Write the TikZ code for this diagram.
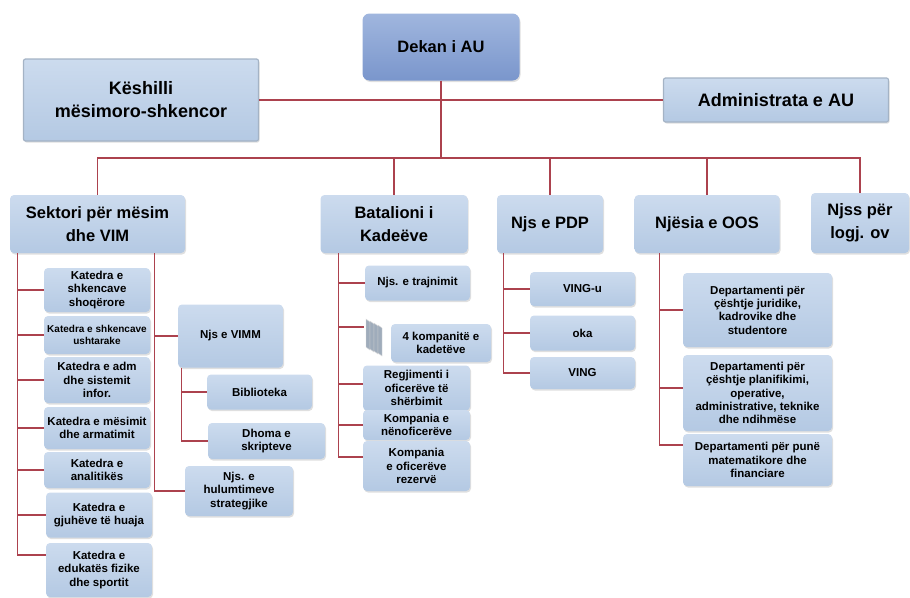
\documentclass[tikz,border=0pt]{standalone}
\usepackage{fontspec}
\setmainfont{Liberation Sans}
\usetikzlibrary{shadows}
\definecolor{boxtop}{RGB}{204,219,238}
\definecolor{boxbot}{RGB}{180,201,227}
\definecolor{headtop}{RGB}{160,182,222}
\definecolor{headbot}{RGB}{122,150,204}
\definecolor{linkred}{RGB}{172,66,78}
\tikzstyle{box} = [
  rectangle, rounded corners=4pt, align=center, top color=boxtop,
  bottom color=boxbot, inner sep=1pt,
  drop shadow={shadow xshift=1pt, shadow yshift=-1.5pt, opacity=.25},
  font=\bfseries\fontsize{11.5}{13.4}\selectfont
]
\tikzstyle{unit} = [box, font=\bfseries\fontsize{16.5}{22.5}\selectfont]
\tikzstyle{bevel} = [box, rounded corners=2pt, draw=boxbot!70!gray,
  line width=1.2pt, font=\bfseries\fontsize{18}{23}\selectfont]
\tikzstyle{head} = [unit, top color=headtop, bottom color=headbot,
  rounded corners=7pt]
\tikzstyle{link} = [draw=linkred, line width=1.1pt]
\tikzset{sz/.style 2 args={minimum width=#1pt, minimum height=#2pt}}

\begin{document}
\begin{tikzpicture}[x=1pt, y=-1pt]
  \useasboundingbox (0,0) rectangle (910,597);

  \node[head, sz={157}{67}] (dekan) at (441,47) {Dekan i AU};
  \node[bevel, sz={235}{82}] (kesh) at (141,100) {Këshilli\\mësimoro-shkencor};
  \node[bevel, sz={225}{44}] (admin) at (776,100) {Administrata e AU};
  \coordinate (bus) at (441,158);

  \node[unit, sz={175}{58}] (sektori) at (97.5,224) {Sektori për mësim\\dhe VIM};
  \node[unit, sz={147}{58}] (batal) at (394,224) {Batalioni i\\Kadeëve};
  \node[unit, sz={106}{58}] (pdp) at (550,224) {Njs e PDP};
  \node[unit, sz={145}{58}] (oos) at (707,224) {Njësia e OOS};
  \node[unit, sz={98}{60}] (njss) at (860,223) {Njss për\\logj. ov};

  % katedrat
  \node[box, sz={106}{44}] (k1) at (97,290) {Katedra e\\shkencave\\shoqërore};
  \node[box, sz={106}{38}, font=\bfseries\fontsize{10}{12}\selectfont] (k2) at (97,335)
    {Katedra e shkencave\\ushtarake};
  \node[box, sz={106}{46}] (k3) at (97,380) {Katedra e adm\\dhe sistemit\\infor.};
  \node[box, sz={106}{42}] (k4) at (97,428) {Katedra e mësimit\\dhe armatimit};
  \node[box, sz={106}{36}] (k5) at (97,470) {Katedra e\\analitikës};
  \node[box, sz={106}{45}] (k6) at (99,515) {Katedra e\\gjuhëve të huaja};
  \node[box, sz={106}{54}] (k7) at (99,570) {Katedra e\\edukatës fizike\\dhe sportit};

  \node[box, sz={105}{63}] (vimm) at (230.5,336) {Njs e VIMM};
  \node[box, sz={105}{35}] (bibl) at (259.5,392) {Biblioteka};
  \node[box, sz={117}{36}] (dhoma) at (266.5,441) {Dhoma e\\skripteve};
  \node[box, sz={108}{50}] (hulum) at (239,491) {Njs. e\\hulumtimeve\\strategjike};

  % batalioni
  \node[box, sz={105}{35}] (trajn) at (417.5,283) {Njs. e trajnimit};
  \node[box, sz={100}{38}] (komp4) at (441,343) {4 kompanitë e\\kadetëve};
  \node[minimum width=22pt, minimum height=34pt] (kicon) at (375,335) {};
  \foreach \i in {0,...,3}
    \draw[fill=boxbot!60!gray, draw=white!70!gray]
      (366+4*\i,319+2*\i) -- ++(4,3) -- ++(0,28) -- ++(-4,-3) -- cycle;
  \node[box, sz={107}{45}] (regj) at (416.5,388) {Regjimenti i\\oficerëve të\\shërbimit};
  \node[box, sz={107}{30}] (kompn) at (416.5,425) {Kompania e\\nënoficerëve};
  \node[box, sz={107}{50}] (kompr) at (416.5,466) {Kompania\\e oficerëve\\rezervë};

  % pdp
  \node[box, sz={105}{34}] (vingu) at (582.5,289) {VING-u};
  \node[box, sz={105}{35}] (oka) at (582.5,333) {oka};
  \node[box, sz={105}{32}] (ving) at (582.5,373) {VING};

  % oos
  \node[box, sz={149}{74}] (dep1) at (757.5,310)
    {Departamenti për\\çështje juridike,\\kadrovike dhe\\studentore};
  \node[box, sz={149}{76}] (dep2) at (757.5,393)
    {Departamenti për\\çështje planifikimi,\\operative,\\administrative, teknike\\dhe ndihmëse};
  \node[box, sz={149}{52}] (dep3) at (757.5,460)
    {Departamenti për punë\\matematikore dhe\\financiare};

  % connectors
  \path[link] (kesh.east) -- (admin.west);
  \path[link] (dekan.south) -- (bus);
  \path[link] (sektori.north) |- (bus) -| (njss.north);
  \foreach \n in {batal,pdp,oos}
    \path[link] (\n.north) -- (\n.north |- bus);

  \coordinate (rail1) at ([xshift=8pt]sektori.south west);
  \path[link] (rail1) |- ([yshift=15pt]k7.west);
  \foreach \n in {k1,k2,k3,k4,k5,k6}
    \path[link] (\n.west) -- (\n.west -| rail1);
  \coordinate (rail2) at ([xshift=-31pt]sektori.south east);
  \path[link] (rail2) |- (hulum.west);
  \path[link] (vimm.west) -- (vimm.west -| rail2);
  \coordinate (rail3) at ([xshift=4pt]vimm.south west);
  \path[link] (rail3) |- (dhoma.west);
  \path[link] (bibl.west) -- (bibl.west -| rail3);

  \coordinate (rail4) at ([xshift=18pt]batal.south west);
  \path[link] (rail4) |- (kompr.north west |- 0,457);
  \path[link] (trajn.west) -- (trajn.west -| rail4);
  \path[link] ([yshift=8pt]kicon.west) -- ([yshift=8pt]kicon.west -| rail4);
  \path[link] ([yshift=4pt]regj.west) -- ([yshift=4pt]regj.west -| rail4);
  \path[link] (kompn.west) -- (kompn.west -| rail4);

  \coordinate (rail5) at ([xshift=7pt]pdp.south west);
  \path[link] (rail5) |- (ving.west);
  \path[link] (vingu.west) -- (vingu.west -| rail5);
  \path[link] (oka.west) -- (oka.west -| rail5);

  \coordinate (rail6) at ([xshift=25pt]oos.south west);
  \path[link] (rail6) |- ([yshift=15pt]dep3.west);
  \path[link] (dep1.west) -- (dep1.west -| rail6);
  \path[link] ([yshift=5pt]dep2.west) -- ([yshift=5pt]dep2.west -| rail6);
\end{tikzpicture}
\end{document}
